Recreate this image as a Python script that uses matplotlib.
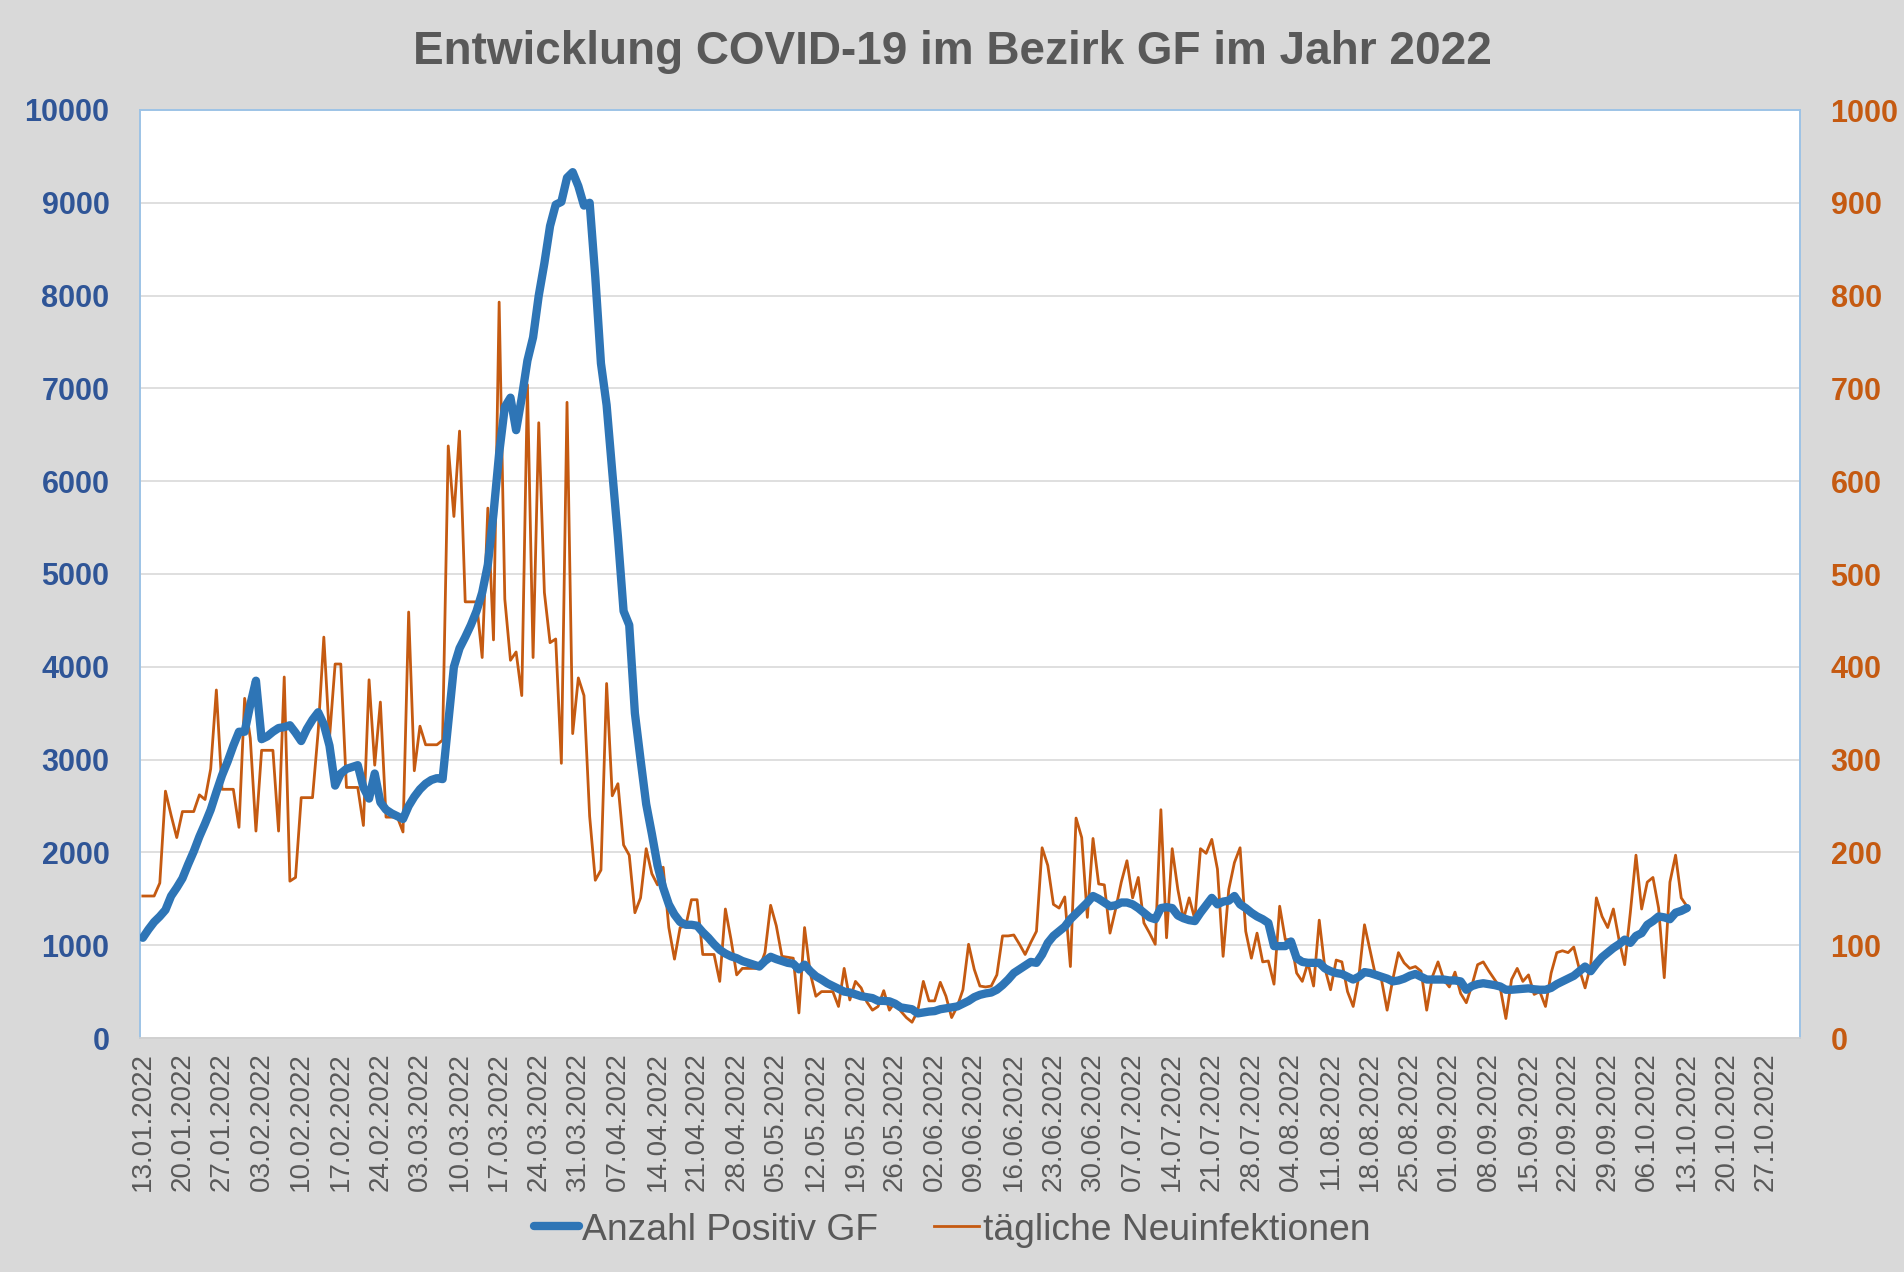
import matplotlib
matplotlib.use("Agg")
import matplotlib.pyplot as plt
from matplotlib.lines import Line2D

title = "Entwicklung COVID-19 im Bezirk GF im Jahr 2022"
series_names = ["Anzahl Positiv GF", "tägliche Neuinfektionen"]

# daily values, day 0 = 13.01.2022 ... day 273 = 13.10.2022
positive = [
    1080, 1170, 1250, 1310, 1380, 1530, 1620, 1720, 1870, 2010,
    2170, 2310, 2460, 2650, 2830, 2980, 3150, 3300, 3300, 3590,
    3850, 3220, 3250, 3300, 3340, 3350, 3370, 3290, 3200, 3330,
    3430, 3510, 3380, 3150, 2720, 2850, 2900, 2920, 2940, 2700,
    2580, 2850, 2540, 2460, 2420, 2390, 2360, 2500, 2600, 2680,
    2740, 2780, 2800, 2790, 3400, 4000, 4200, 4320, 4450, 4600,
    4800, 5100, 5650, 6300, 6800, 6900, 6550, 6900, 7300, 7550,
    8000, 8350, 8750, 8980, 9010, 9270, 9330, 9180, 8970, 9000,
    8200, 7270, 6820, 6100, 5400, 4600, 4450, 3500, 3000, 2520,
    2200, 1860, 1620, 1440, 1330, 1250, 1220, 1220, 1210, 1140,
    1080, 1010, 950, 910, 880, 860, 830, 810, 790, 770,
    830, 875, 850, 830, 810, 800, 740, 790, 720, 665,
    630, 590, 560, 530, 500, 490, 470, 450, 440, 430,
    400, 400, 395, 370, 330, 320, 310, 265, 275, 285,
    290, 310, 320, 330, 340, 370, 400, 440, 465, 480,
    490, 520, 570, 630, 700, 740, 780, 820, 810, 900,
    1025, 1100, 1150, 1200, 1280, 1340, 1400, 1460, 1530, 1500,
    1460, 1420, 1430, 1460, 1460, 1440, 1400, 1350, 1300, 1280,
    1400, 1410, 1400, 1320, 1290, 1270, 1260, 1350, 1430, 1510,
    1440, 1470, 1480, 1530, 1440, 1400, 1350, 1310, 1280, 1240,
    990, 990, 990, 1040, 860, 820, 810, 810, 810, 750,
    720, 700, 690, 660, 630, 660, 710, 700, 680, 660,
    640, 610, 620, 640, 670, 690, 660, 630, 630, 630,
    630, 620, 620, 610, 520, 560, 580, 590, 580, 570,
    555, 520, 520, 525, 530, 535, 525, 520, 520, 540,
    580, 610, 640, 670, 720, 770, 720, 800, 870, 920,
    970, 1010, 1060, 1025, 1100, 1130, 1220, 1260, 1310, 1300,
    1280, 1350, 1370, 1400,
]

new_infections = [
    153, 153, 153, 167, 266, 240, 216, 244, 244, 244,
    262, 257, 290, 375, 268, 268, 268, 227, 366, 323,
    223, 310, 310, 310, 223, 389, 169, 173, 259, 259,
    259, 330, 432, 323, 403, 403, 270, 270, 270, 229,
    386, 294, 362, 238, 238, 238, 222, 459, 288, 336,
    316, 316, 316, 321, 638, 562, 654, 470, 470, 470,
    410, 571, 429, 793, 473, 407, 416, 369, 704, 410,
    663, 480, 426, 430, 296, 685, 328, 388, 369, 239,
    170, 181, 382, 261, 274, 208, 197, 135, 151, 204,
    177, 165, 184, 119, 85, 119, 121, 149, 149, 90,
    90, 90, 61, 139, 106, 68, 75, 75, 75, 75,
    92, 143, 121, 88, 87, 86, 27, 119, 70, 45,
    50, 50, 50, 34, 75, 41, 61, 54, 39, 30,
    34, 51, 30, 39, 29, 22, 17, 29, 61, 40,
    40, 60, 45, 22, 34, 52, 101, 74, 56, 55,
    56, 68, 110, 110, 111, 101, 90, 103, 115, 205,
    186, 144, 140, 152, 77, 237, 216, 130, 215, 166,
    165, 113, 139, 168, 191, 151, 173, 124, 113, 101,
    246, 108, 204, 160, 128, 151, 128, 204, 199, 214,
    182, 88, 160, 189, 205, 115, 86, 113, 82, 83,
    58, 142, 106, 106, 70, 61, 81, 56, 127, 75,
    52, 84, 82, 50, 34, 66, 122, 94, 66, 63,
    30, 63, 92, 81, 75, 77, 72, 30, 66, 82,
    63, 55, 71, 48, 38, 57, 79, 82, 72, 63,
    54, 21, 63, 75, 61, 68, 47, 50, 34, 70,
    92, 94, 92, 98, 74, 54, 79, 151, 131, 119,
    139, 106, 79, 135, 197, 139, 168, 173, 140, 65,
    168, 197, 151, 142,
]

tick_labels = [
    "13.01.2022", "20.01.2022", "27.01.2022", "03.02.2022", "10.02.2022",
    "17.02.2022", "24.02.2022", "03.03.2022", "10.03.2022", "17.03.2022",
    "24.03.2022", "31.03.2022", "07.04.2022", "14.04.2022", "21.04.2022",
    "28.04.2022", "05.05.2022", "12.05.2022", "19.05.2022", "26.05.2022",
    "02.06.2022", "09.06.2022", "16.06.2022", "23.06.2022", "30.06.2022",
    "07.07.2022", "14.07.2022", "21.07.2022", "28.07.2022", "04.08.2022",
    "11.08.2022", "18.08.2022", "25.08.2022", "01.09.2022", "08.09.2022",
    "15.09.2022", "22.09.2022", "29.09.2022", "06.10.2022", "13.10.2022",
    "20.10.2022", "27.10.2022",
]
left_ticks = [0, 1000, 2000, 3000, 4000, 5000, 6000, 7000, 8000, 9000, 10000]
right_ticks = [0, 100, 200, 300, 400, 500, 600, 700, 800, 900, 1000]

BG = "#d9d9d9"
BLUE = "#2e75b6"
ORANGE = "#c55a11"
AX_BLUE = "#2f5597"
GRAY = "#595959"

plt.rcParams["font.family"] = ["Liberation Sans", "DejaVu Sans"]

fig = plt.figure(figsize=(19.04, 12.72), dpi=100, facecolor=BG)
ax = fig.add_axes([140 / 1904, 1 - 1038 / 1272, 1660 / 1904, 928 / 1272])
ax.set_facecolor("white")
ax2 = ax.twinx()

days = list(range(len(positive)))
ax.plot(days, positive, color=BLUE, lw=6.0, solid_joinstyle="round",
        solid_capstyle="round", zorder=3)
ax2.plot(days, new_infections, color=ORANGE, lw=2.0, zorder=2)
ax.set_zorder(ax2.get_zorder() + 1)
ax.patch.set_visible(False)
ax2.patch.set_visible(True)
ax2.patch.set_facecolor("white")

ax.set_xlim(-0.5, 293)
ax.set_ylim(0, 10000)
ax2.set_ylim(0, 1000)
ax.set_yticks(left_ticks)
ax2.set_yticks(right_ticks)
ax.set_xticks([7 * i for i in range(len(tick_labels))])
ax.set_xticklabels(tick_labels, rotation=90, color=GRAY, fontsize=20)
ax.tick_params(axis="x", length=0, pad=10)
ax.tick_params(axis="y", length=0, pad=22, labelsize=22, labelcolor=AX_BLUE)
ax2.tick_params(axis="y", length=0, pad=22, labelsize=22, labelcolor=ORANGE)
for lab in ax.get_yticklabels():
    lab.set_fontweight("bold")
for lab in ax2.get_yticklabels():
    lab.set_fontweight("bold")

ax2.grid(False)
ax.grid(False)
for y in left_ticks[1:-1]:
    ax2.axhline(y / 10, color="#d9d9d9", lw=1.2, zorder=0)

for a in (ax, ax2):
    for s in a.spines.values():
        s.set_color("#9dc3e6")
        s.set_linewidth(1.2)
ax.spines["bottom"].set_color("#d0d0d0")
ax2.spines["bottom"].set_color("#d0d0d0")

fig.text(0.5, 1 - 52 / 1272, title, ha="center", va="center",
         fontsize=33, fontweight="bold", color=GRAY)

handles = [Line2D([], [], color=BLUE, lw=6.0, solid_capstyle="round"),
           Line2D([], [], color=ORANGE, lw=2.0)]
fig.legend(handles, series_names, loc="center", bbox_to_anchor=(0.5, 1 - 1230 / 1272),
           ncol=2, frameon=False, fontsize=26.8, labelcolor=GRAY,
           handlelength=1.2, handletextpad=0.1, columnspacing=1.5)

fig.savefig("out.png", dpi=100, facecolor=BG)
